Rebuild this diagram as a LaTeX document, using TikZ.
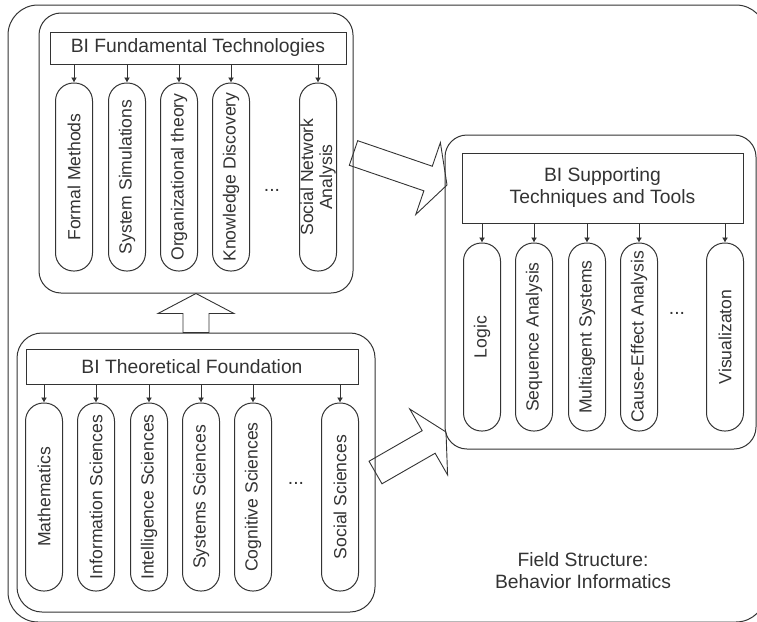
\documentclass[tikz,border=0pt]{standalone}
\usepackage{fontspec}
\setmainfont{Liberation Sans}
\usetikzlibrary{calc,positioning,arrows.meta}

% big hollow arrow from #1 (tail) to #2 (tip)
\newcommand{\hollowarrow}[2]{%
	\coordinate (hb) at ($(#2)!20pt!(#1)$);
	\draw[blockarrow] ($(#1)!13pt!90:(#2)$) -- ($(hb)!13pt!90:(#2)$) -- ($(hb)!38pt!90:(#2)$) -- (#2)
		-- ($(hb)!38pt!-90:(#2)$) -- ($(hb)!13pt!-90:(#2)$) -- ($(#1)!13pt!-90:(#2)$) -- cycle;}

\begin{document}
\begin{tikzpicture}[x=1pt, y=-1pt, color=black!80, line width=1pt,
		container/.style={draw, rounded corners=22pt, inner sep=0pt},
		headbox/.style={draw, inner sep=0pt, align=center, font=\fontsize{19.3}{22}\selectfont},
		pill/.style={draw, rotate=90, rounded corners=18pt, minimum width=188pt, minimum height=37pt,
			inner sep=0pt, align=center, font=\fontsize{17.6}{19}\selectfont},
		feed/.style={-{Latex[length=5pt,width=6pt]}, line width=0.8pt},
		blockarrow/.style={line width=0.9pt, line join=miter},
		moredots/.style={inner sep=0pt, font=\fontsize{19.3}{22}\selectfont},
		notetext/.style={align=center, font=\fontsize{19.3}{22}\selectfont}]
			\useasboundingbox (0,0) rectangle (757,621);
			
			\draw[rounded corners=30pt] (8,5) rectangle (766,622);
			
			%%fundamental technologies%%
			\node[container, minimum width=314pt, minimum height=280pt] (fund) at (196,153) {};
			\node[headbox, minimum width=296pt, minimum height=32pt] (fhead) at (198,48) {BI Fundamental Technologies};
			\node[pill] (f1) at (74,177) {Formal Methods};
			\node[pill] (f2) at (127,177) {System Simulations};
			\node[pill] (f3) at (179,177) {Organizational theory};
			\node[pill] (f4) at (231,177) {Knowledge Discovery};
			\node[pill] (f5) at (318,177) {Social Network\\Analysis};
			\node[moredots] (fdots) at (272,190) {...};
			\draw[feed] (f1.east |- fhead.south) -- (f1.east);
			\draw[feed] (f2.east |- fhead.south) -- (f2.east);
			\draw[feed] (f3.east |- fhead.south) -- (f3.east);
			\draw[feed] (f4.east |- fhead.south) -- (f4.east);
			\draw[feed] (f5.east |- fhead.south) -- (f5.east);
			
			%%theoretical foundation%%
			\node[container, rounded corners=25pt, minimum width=358pt, minimum height=279pt] (theo) at (196,472.5) {};
			\node[headbox, minimum width=332pt, minimum height=35pt] (thead) at (192,366.5) {BI Theoretical Foundation};
			\node[pill] (t1) at (44,497) {Mathematics};
			\node[pill] (t2) at (96,497) {Information Sciences};
			\node[pill] (t3) at (149,497) {Intelligence Sciences};
			\node[pill] (t4) at (201,497) {Systems Sciences};
			\node[pill] (t5) at (253,497) {Cognitive Sciences};
			\node[pill] (t6) at (340,497) {Social Sciences};
			\node[moredots] (tdots) at (296,483) {...};
			\draw[feed] (t1.east |- thead.south) -- (t1.east);
			\draw[feed] (t2.east |- thead.south) -- (t2.east);
			\draw[feed] (t3.east |- thead.south) -- (t3.east);
			\draw[feed] (t4.east |- thead.south) -- (t4.east);
			\draw[feed] (t5.east |- thead.south) -- (t5.east);
			\draw[feed] (t6.east |- thead.south) -- (t6.east);
			
			%%supporting techniques%%
			\node[container, minimum width=311pt, minimum height=314pt] (supp) at (600.5,292) {};
			\node[headbox, minimum width=281pt, minimum height=70pt] (shead) at (602.5,188) {BI Supporting\\Techniques and Tools};
			\node[pill] (s1) at (482,337) {Logic};
			\node[pill] (s2) at (534,337) {Sequence Analysis};
			\node[pill] (s3) at (587,337) {Multiagent Systems};
			\node[pill] (s4) at (639,337) {Cause-Effect Analysis};
			\node[pill] (s5) at (725,337) {Visualizaton};
			\node[moredots] (sdots) at (677,313) {...};
			\draw[feed] (s1.east |- shead.south) -- (s1.east);
			\draw[feed] (s2.east |- shead.south) -- (s2.east);
			\draw[feed] (s3.east |- shead.south) -- (s3.east);
			\draw[feed] (s4.east |- shead.south) -- (s4.east);
			\draw[feed] (s5.east |- shead.south) -- (s5.east);
			
			\node[notetext] (field) at (583,571) {Field Structure:\\Behavior Informatics};
			
			%%big arrows%%
			\coordinate (tip1) at (447,185);
			\coordinate (tip2) at (446,432);
			\hollowarrow{theo.north}{fund.south}
			\hollowarrow{fund.east}{tip1}
			\hollowarrow{theo.east}{tip2}
		\end{tikzpicture}
\end{document}
